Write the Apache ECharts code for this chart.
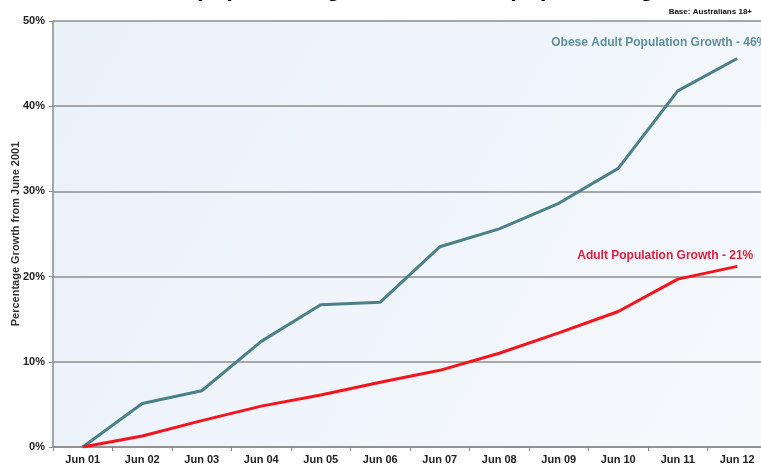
<!DOCTYPE html>
<html>
<head>
<meta charset="utf-8">
<script src="https://cdn.jsdelivr.net/npm/echarts@6/dist/echarts.min.js"></script>
<style>
  html, body { margin: 0; padding: 0; background: #fff; }
  #main { width: 761px; height: 464px; }
</style>
</head>
<body>
<div id="main"></div>
<script>
const months = ['Jun 01', 'Jun 02', 'Jun 03', 'Jun 04', 'Jun 05', 'Jun 06', 'Jun 07', 'Jun 08', 'Jun 09', 'Jun 10', 'Jun 11', 'Jun 12'];
const obeseGrowth = [0, 5.1, 6.6, 12.4, 16.7, 17.0, 23.5, 25.6, 28.6, 32.7, 41.8, 45.6];
const adultGrowth = [0, 1.3, 3.1, 4.8, 6.1, 7.6, 9.0, 11.0, 13.4, 15.9, 19.7, 21.2];
const yTicks = [0, 10, 20, 30, 40, 50];

const font = '"Liberation Sans", Arial, sans-serif';
const myChart = echarts.init(document.getElementById('main'));

myChart.setOption({
  animation: false,
  textStyle: { fontFamily: font },
  graphic: [
    {
      type: 'text',
      left: 117,
      top: -23,
      style: {
        text: 'Obese population growth vs adult population growth',
        font: 'bold 24px ' + font,
        fill: '#000'
      }
    },
    {
      type: 'text',
      right: 9,
      top: 8,
      style: {
        text: 'Base: Australians 18+',
        font: 'bold 8px ' + font,
        fill: '#111'
      }
    }
  ],
  grid: {
    left: 53,
    right: -6,
    top: 21,
    bottom: 17,
    outerBoundsMode: 'none',
    containLabel: false,
    show: true,
    borderWidth: 0,
    backgroundColor: new echarts.graphic.LinearGradient(0, 0, 1, 1, [
      { offset: 0, color: '#e9f1f9' },
      { offset: 1, color: '#f6f9fc' }
    ])
  },
  xAxis: {
    type: 'category',
    data: months,
    boundaryGap: true,
    axisLine: { lineStyle: { color: '#8a8a8a', width: 1.5 } },
    axisTick: { show: true, length: 4, lineStyle: { color: '#8a8a8a' } },
    axisLabel: { color: '#222', fontWeight: 'bold', fontSize: 11, margin: 7, interval: 0 }
  },
  yAxis: {
    type: 'value',
    min: yTicks[0],
    max: yTicks[yTicks.length - 1],
    interval: 10,
    name: 'Percentage Growth from June 2001',
    nameLocation: 'middle',
    nameGap: 32,
    nameMoveOverlap: false,
    nameTextStyle: { color: '#333', fontWeight: 'bold', fontSize: 11 },
    axisLine: { show: true, lineStyle: { color: '#8a8a8a', width: 1.5 } },
    axisTick: { show: true, length: 4, lineStyle: { color: '#8a8a8a' } },
    axisLabel: { color: '#222', fontWeight: 'bold', fontSize: 11, margin: 8, formatter: '{value}%' },
    splitLine: { lineStyle: { color: '#8c8c8c', width: 1.5 } }
  },
  series: [
    {
      name: 'Obese Adult Population Growth',
      type: 'line',
      data: obeseGrowth,
      symbol: 'none',
      lineStyle: { color: '#4b8088', width: 3 },
      endLabel: {
        show: true,
        formatter: 'Obese Adult Population Growth - 46%',
        color: '#5f8f9a',
        fontWeight: 'bold',
        fontSize: 12,
        align: 'right',
        offset: [22, -16]
      }
    },
    {
      name: 'Adult Population Growth',
      type: 'line',
      data: adultGrowth,
      symbol: 'none',
      lineStyle: { color: '#f5141c', width: 3 },
      endLabel: {
        show: true,
        formatter: 'Adult Population Growth - 21%',
        color: '#e01d3c',
        fontWeight: 'bold',
        fontSize: 12,
        align: 'right',
        offset: [8, -11]
      }
    }
  ]
});

window.addEventListener('resize', () => {
  myChart.resize();
});
</script>
</body>
</html>
